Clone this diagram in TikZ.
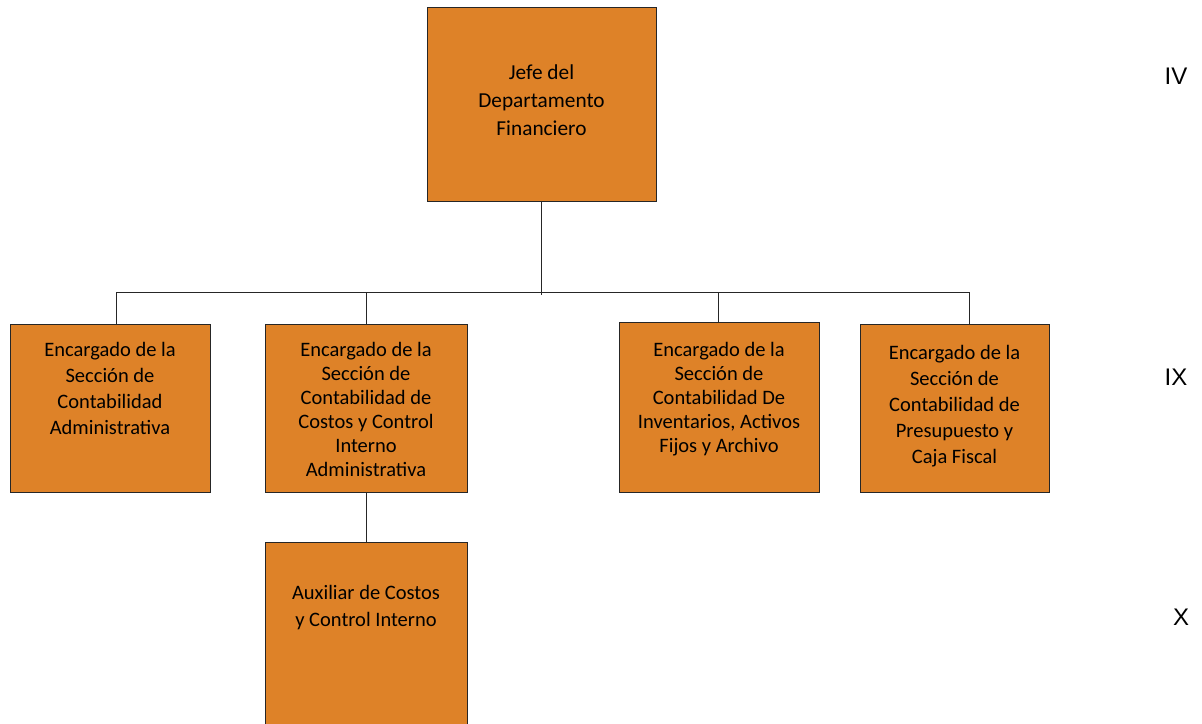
\documentclass[tikz,border=0pt]{standalone}
\usepackage{fontspec}
\setmainfont{Carlito}
\newfontfamily\arialf{Liberation Sans}
\usetikzlibrary{positioning}
\definecolor{naranja}{RGB}{222,130,40}
\tikzstyle{puesto} = [rectangle, draw=black!85, line width=1pt, fill=naranja, inner sep=0pt]
\tikzstyle{texto} = [align=center, inner sep=0pt, font=\fontsize{20.5}{24}\selectfont]
\tikzstyle{nivel} = [inner sep=0pt, font=\arialf\fontsize{24}{28}\selectfont]
\tikzstyle{linea} = [draw=black!85, line width=1pt]

\begin{document}
\begin{tikzpicture}[x=1pt, y=-1pt]
\useasboundingbox (0,0) rectangle (1202,723);
\node (jefe) [puesto, minimum width=229pt, minimum height=194pt] at (541.5,104) {};
\node (a) [puesto, minimum width=200pt, minimum height=168pt] at (110,408) {};
\node (b) [puesto, minimum width=202pt, minimum height=168pt] at (366,408) {};
\node (c) [puesto, minimum width=200pt, minimum height=170pt] at (719,407) {};
\node (d) [puesto, minimum width=189pt, minimum height=168pt] at (954.5,408) {};
\node (e) [puesto, minimum width=202pt, minimum height=200pt] at (366,642) {};

\node (jefe-t) [texto, font=\fontsize{21.3}{28}\selectfont] at (541.5,100) {Jefe del\\Departamento\\Financiero};
\node (a-t) [texto, font=\fontsize{20.5}{25.7}\selectfont, below=19pt of a.north] {Encargado de la\\Sección de\\Contabilidad\\Administrativa};
\node (b-t) [texto, below=19pt of b.north] {Encargado de la\\Sección de\\Contabilidad de\\Costos y Control\\Interno\\Administrativa};
\node (c-t) [texto, below=21pt of c.north] {Encargado de la\\Sección de\\Contabilidad De\\Inventarios, Activos\\Fijos y Archivo};
\node (d-t) [texto, font=\fontsize{20.5}{26}\selectfont, below=22pt of d.north] {Encargado de la\\Sección de\\Contabilidad de\\Presupuesto y\\Caja Fiscal};
\node (e-t) [texto, font=\fontsize{20.5}{27}\selectfont, below=44pt of e.north] {Auxiliar de Costos\\y Control Interno};

\node (niv4) [nivel] at (1176,76) {IV};
\node (niv9) [nivel] at (1176,377) {IX};
\node (niv10) [nivel] at (1181,617) {X};

\coordinate (ba) at (116,292);
\coordinate (bb) at (366,292);
\coordinate (bc) at (718,292);
\coordinate (bd) at (969,292);
\coordinate (bj) at (541.5,295);

\draw [linea] (jefe.south) -- (bj);
\draw [linea] (ba) -- (bd);
\draw [linea] (ba) -- (ba |- a.north);
\draw [linea] (bb) -- (b.north);
\draw [linea] (bc) -- (bc |- c.north);
\draw [linea] (bd) -- (bd |- d.north);
\draw [linea] (b.south) -- (e.north);
\end{tikzpicture}
\end{document}
